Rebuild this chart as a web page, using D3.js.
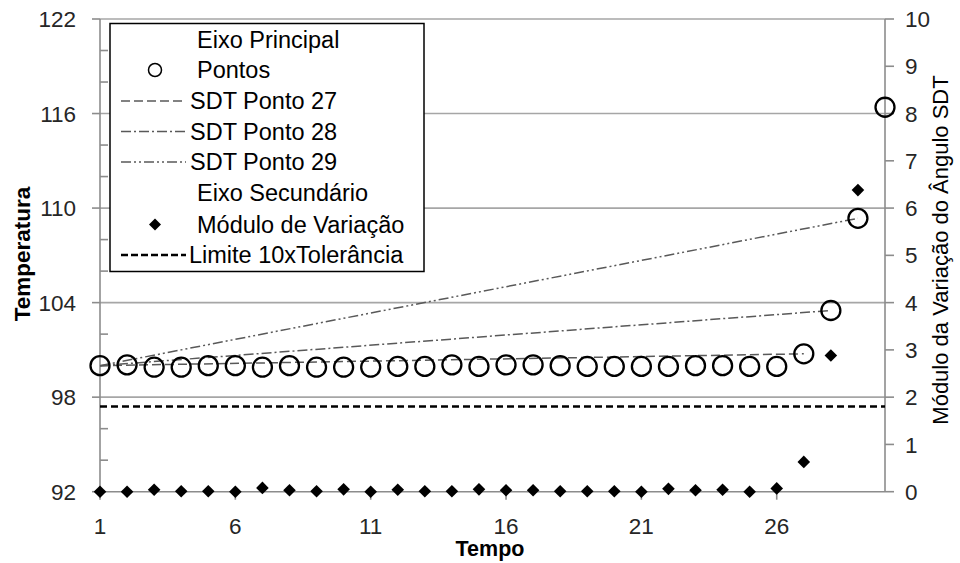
<!DOCTYPE html>
<html>
<head>
<meta charset="utf-8">
<script src="https://cdn.jsdelivr.net/npm/d3@7"></script>
<style>
  html, body { margin: 0; padding: 0; background: #fff; }
  svg { display: block; font-family: "Liberation Sans", Arial, sans-serif; }
</style>
</head>
<body>
<svg id="chart" width="960" height="563"></svg>
<script>
// ---------- DATA ----------
const categories = [1,2,3,4,5,6,7,8,9,10,11,12,13,14,15,16,17,18,19,20,21,22,23,24,25,26,27,28,29,30];
const pontos = [100.0, 100.05, 99.9, 99.9, 100.0, 100.0, 99.9, 100.0, 99.9, 99.9,
                99.9, 99.95, 99.95, 100.05, 99.95, 100.05, 100.05, 100.0, 99.95, 99.95,
                99.95, 99.95, 100.0, 100.0, 99.95, 99.95, 100.75, 103.5, 109.35, 116.4];
const modulo = [0.0, 0.0, 0.04, 0.01, 0.01, 0.0, 0.08, 0.03, 0.01, 0.05,
                0.0, 0.04, 0.01, 0.01, 0.05, 0.03, 0.03, 0.01, 0.01, 0.01,
                0.0, 0.06, 0.03, 0.04, 0.0, 0.07, 0.63, 2.88, 6.38, null];
const sdt27 = [[1, 100.0], [27, 100.75]];
const sdt28 = [[1, 100.0], [28, 103.5]];
const sdt29 = [[1, 100.0], [29, 109.35]];
const limite = 1.8;
const leftTicks = [92, 98, 104, 110, 116, 122];
const leftMinor = [94, 96, 100, 102, 106, 108, 112, 114, 118, 120];
const rightTicks = [0,1,2,3,4,5,6,7,8,9,10];
const xTickLabels = [1, 6, 11, 16, 21, 26];
const legendItems = ["Eixo Principal", "Pontos", "SDT Ponto 27", "SDT Ponto 28", "SDT Ponto 29",
                     "Eixo Secundário", "Módulo de Variação", "Limite 10xTolerância"];

// ---------- LAYOUT ----------
const L = 100, R = 885, T = 19, B = 491.7;
const svg = d3.select("#chart");
const x = d3.scalePoint().domain(categories).range([L, R]);
const y = d3.scaleLinear().domain([92, 122]).range([B, T]);
const y2 = d3.scaleLinear().domain([0, 10]).range([B, T]);
const gridColor = "#a6a6a6", axisColor = "#8c8c8c", lineColor = "#595959";
const fontSize = 22.5;

// gridlines
svg.append("g").selectAll("line").data(leftTicks.slice(1)).join("line")
  .attr("x1", L).attr("x2", R).attr("y1", d => y(d)).attr("y2", d => y(d))
  .attr("stroke", gridColor).attr("stroke-width", 1.6);

// axes lines
svg.append("line").attr("x1", L).attr("x2", L).attr("y1", T).attr("y2", B).attr("stroke", axisColor).attr("stroke-width", 1.6);
svg.append("line").attr("x1", R).attr("x2", R).attr("y1", T).attr("y2", B).attr("stroke", axisColor).attr("stroke-width", 1.6);
svg.append("line").attr("x1", L).attr("x2", R).attr("y1", B).attr("y2", B).attr("stroke", axisColor).attr("stroke-width", 1.6);

// left ticks (major outward, minor inward)
svg.append("g").selectAll("line").data(leftTicks).join("line")
  .attr("x1", L - 8).attr("x2", L).attr("y1", d => y(d)).attr("y2", d => y(d))
  .attr("stroke", axisColor).attr("stroke-width", 1.6);
svg.append("g").selectAll("line").data(leftMinor).join("line")
  .attr("x1", L).attr("x2", L + 8).attr("y1", d => y(d)).attr("y2", d => y(d))
  .attr("stroke", axisColor).attr("stroke-width", 1.6);
svg.append("g").selectAll("text").data(leftTicks).join("text")
  .attr("x", 76).attr("y", d => y(d)).attr("dy", "0.36em").attr("text-anchor", "end")
  .attr("font-size", fontSize).attr("fill", "#262626").text(d => d);

// right ticks
svg.append("g").selectAll("line").data(rightTicks).join("line")
  .attr("x1", R).attr("x2", R + 9).attr("y1", d => y2(d)).attr("y2", d => y2(d))
  .attr("stroke", axisColor).attr("stroke-width", 1.6);
svg.append("g").selectAll("text").data(rightTicks).join("text")
  .attr("x", 905).attr("y", d => y2(d)).attr("dy", "0.36em").attr("text-anchor", "start")
  .attr("font-size", fontSize).attr("fill", "#262626").text(d => d);

// bottom ticks
svg.append("g").selectAll("line").data(xTickLabels).join("line")
  .attr("x1", d => x(d)).attr("x2", d => x(d)).attr("y1", B).attr("y2", B + 8)
  .attr("stroke", axisColor).attr("stroke-width", 1.6);
svg.append("g").selectAll("text").data(xTickLabels).join("text")
  .attr("x", d => x(d)).attr("y", 534).attr("text-anchor", "middle")
  .attr("font-size", fontSize).attr("fill", "#262626").text(d => d);

// axis titles
svg.append("text").attr("x", 490).attr("y", 556).attr("text-anchor", "middle")
  .attr("font-size", 21.5).attr("font-weight", "bold").attr("fill", "#000").text("Tempo");
svg.append("text").attr("transform", "translate(30,254) rotate(-90)").attr("text-anchor", "middle")
  .attr("font-size", 22.5).attr("font-weight", "bold").attr("fill", "#000").text("Temperatura");
svg.append("text").attr("transform", "translate(948,250) rotate(-90)").attr("text-anchor", "middle")
  .attr("font-size", 22).attr("fill", "#000").text("Módulo da Variação do Ângulo SDT");

// SDT lines
const lineGen = d3.line().x(d => x(d[0])).y(d => y(d[1]));
const dash27 = "9,4", dash28 = "10,3,2,3", dash29 = "10,3,2,3,2,3";
[[sdt27, dash27], [sdt28, dash28], [sdt29, dash29]].forEach(([data, dash]) => {
  svg.append("path").datum(data).attr("d", lineGen).attr("fill", "none")
    .attr("stroke", lineColor).attr("stroke-width", 1.5).attr("stroke-dasharray", dash);
});

// limit line (secondary axis)
svg.append("line").attr("x1", L).attr("x2", R).attr("y1", y2(limite)).attr("y2", y2(limite))
  .attr("stroke", "#000").attr("stroke-width", 2.5).attr("stroke-dasharray", "7,4");

// points (circles)
svg.append("g").selectAll("circle").data(categories).join("circle")
  .attr("cx", d => x(d)).attr("cy", (d, i) => y(pontos[i])).attr("r", 9.5)
  .attr("fill", "none").attr("stroke", "#000").attr("stroke-width", 2.3);

// diamonds
const diamond = (cx, cy, s) => `M${cx},${cy - s}L${cx + s},${cy}L${cx},${cy + s}L${cx - s},${cy}Z`;
svg.append("g").selectAll("path").data(categories.filter((d, i) => modulo[i] !== null)).join("path")
  .attr("d", d => diamond(x(d), y2(modulo[categories.indexOf(d)]), 6.3))
  .attr("fill", "#000");

// legend
const lg = svg.append("g");
lg.append("rect").attr("x", 110).attr("y", 23.5).attr("width", 314).attr("height", 248)
  .attr("fill", "#fff").attr("stroke", "#000").attr("stroke-width", 1.5);
const rowY = [40, 70, 101, 131.5, 162, 193, 224.5, 255];
const rowX = [197, 197, 190, 190, 190, 197, 197, 189];
lg.selectAll("text").data(legendItems).join("text")
  .attr("x", (d, i) => rowX[i]).attr("y", (d, i) => rowY[i]).attr("dy", "0.36em")
  .attr("font-size", 23.5).attr("fill", "#000").text(d => d);
const sx1 = 121, sx2 = 186, scx = 155;
lg.append("circle").attr("cx", scx).attr("cy", rowY[1]).attr("r", 6.5).attr("fill", "none")
  .attr("stroke", "#000").attr("stroke-width", 1.5);
[[2, dash27], [3, dash28], [4, dash29]].forEach(([i, dash]) => {
  lg.append("line").attr("x1", sx1).attr("x2", sx2).attr("y1", rowY[i]).attr("y2", rowY[i])
    .attr("stroke", lineColor).attr("stroke-width", 1.5).attr("stroke-dasharray", dash);
});
lg.append("path").attr("d", diamond(scx, rowY[6], 6)).attr("fill", "#000");
lg.append("line").attr("x1", sx1).attr("x2", sx2).attr("y1", rowY[7]).attr("y2", rowY[7])
  .attr("stroke", "#000").attr("stroke-width", 2.5).attr("stroke-dasharray", "7,3");
</script>
</body>
</html>
